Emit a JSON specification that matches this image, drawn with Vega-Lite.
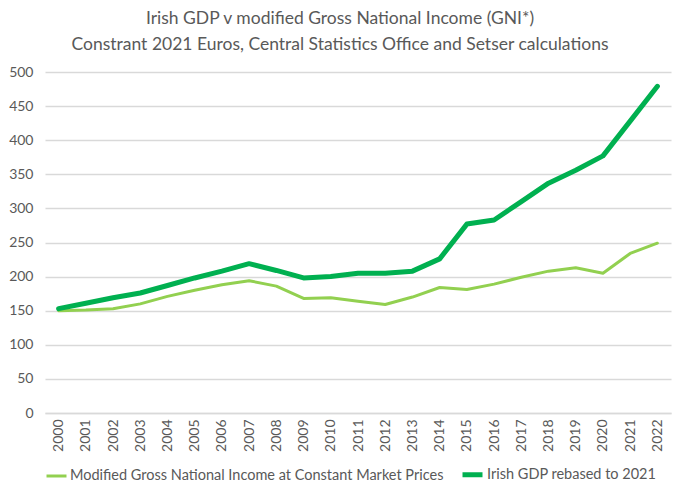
{
  "$schema": "https://vega.github.io/schema/vega-lite/v6.json",
  "width": 626,
  "height": 341,
  "autosize": {"type": "none"},
  "padding": {"left": 45, "top": 72, "right": 9, "bottom": 81},
  "background": "white",
  "config": {
    "font": "Lato",
    "view": {"stroke": null}
  },
  "title": {
    "text": ["Irish GDP v modified Gross National Income (GNI*)", "Constrant 2021 Euros, Central Statistics Office and Setser calculations"],
    "fontSize": 17.5,
    "fontWeight": "normal",
    "color": "#595959",
    "anchor": "middle",
    "dx": -18,
    "offset": 12,
    "lineHeight": 26
  },
  "data": {
    "values": [
      {"year": "2000", "series": "Modified Gross National Income at Constant Market Prices", "value": 150},
      {"year": "2001", "series": "Modified Gross National Income at Constant Market Prices", "value": 151},
      {"year": "2002", "series": "Modified Gross National Income at Constant Market Prices", "value": 153},
      {"year": "2003", "series": "Modified Gross National Income at Constant Market Prices", "value": 160},
      {"year": "2004", "series": "Modified Gross National Income at Constant Market Prices", "value": 171},
      {"year": "2005", "series": "Modified Gross National Income at Constant Market Prices", "value": 180},
      {"year": "2006", "series": "Modified Gross National Income at Constant Market Prices", "value": 188},
      {"year": "2007", "series": "Modified Gross National Income at Constant Market Prices", "value": 194},
      {"year": "2008", "series": "Modified Gross National Income at Constant Market Prices", "value": 186},
      {"year": "2009", "series": "Modified Gross National Income at Constant Market Prices", "value": 168},
      {"year": "2010", "series": "Modified Gross National Income at Constant Market Prices", "value": 169},
      {"year": "2011", "series": "Modified Gross National Income at Constant Market Prices", "value": 164},
      {"year": "2012", "series": "Modified Gross National Income at Constant Market Prices", "value": 159},
      {"year": "2013", "series": "Modified Gross National Income at Constant Market Prices", "value": 170},
      {"year": "2014", "series": "Modified Gross National Income at Constant Market Prices", "value": 184},
      {"year": "2015", "series": "Modified Gross National Income at Constant Market Prices", "value": 181},
      {"year": "2016", "series": "Modified Gross National Income at Constant Market Prices", "value": 189},
      {"year": "2017", "series": "Modified Gross National Income at Constant Market Prices", "value": 199},
      {"year": "2018", "series": "Modified Gross National Income at Constant Market Prices", "value": 208},
      {"year": "2019", "series": "Modified Gross National Income at Constant Market Prices", "value": 213},
      {"year": "2020", "series": "Modified Gross National Income at Constant Market Prices", "value": 205},
      {"year": "2021", "series": "Modified Gross National Income at Constant Market Prices", "value": 234},
      {"year": "2022", "series": "Modified Gross National Income at Constant Market Prices", "value": 249},
      {"year": "2000", "series": "Irish GDP rebased to 2021", "value": 153},
      {"year": "2001", "series": "Irish GDP rebased to 2021", "value": 161},
      {"year": "2002", "series": "Irish GDP rebased to 2021", "value": 169},
      {"year": "2003", "series": "Irish GDP rebased to 2021", "value": 176},
      {"year": "2004", "series": "Irish GDP rebased to 2021", "value": 187},
      {"year": "2005", "series": "Irish GDP rebased to 2021", "value": 198},
      {"year": "2006", "series": "Irish GDP rebased to 2021", "value": 208},
      {"year": "2007", "series": "Irish GDP rebased to 2021", "value": 219},
      {"year": "2008", "series": "Irish GDP rebased to 2021", "value": 209},
      {"year": "2009", "series": "Irish GDP rebased to 2021", "value": 198},
      {"year": "2010", "series": "Irish GDP rebased to 2021", "value": 200},
      {"year": "2011", "series": "Irish GDP rebased to 2021", "value": 205},
      {"year": "2012", "series": "Irish GDP rebased to 2021", "value": 205},
      {"year": "2013", "series": "Irish GDP rebased to 2021", "value": 208},
      {"year": "2014", "series": "Irish GDP rebased to 2021", "value": 226},
      {"year": "2015", "series": "Irish GDP rebased to 2021", "value": 277},
      {"year": "2016", "series": "Irish GDP rebased to 2021", "value": 283},
      {"year": "2017", "series": "Irish GDP rebased to 2021", "value": 310},
      {"year": "2018", "series": "Irish GDP rebased to 2021", "value": 337},
      {"year": "2019", "series": "Irish GDP rebased to 2021", "value": 356},
      {"year": "2020", "series": "Irish GDP rebased to 2021", "value": 377},
      {"year": "2021", "series": "Irish GDP rebased to 2021", "value": 428},
      {"year": "2022", "series": "Irish GDP rebased to 2021", "value": 479}
    ]
  },
  "mark": {"type": "line", "strokeCap": "round", "strokeJoin": "round"},
  "encoding": {
    "x": {
      "field": "year",
      "type": "ordinal",
      "title": null,
      "scale": {"paddingInner": 0, "paddingOuter": 0.5},
      "axis": {
        "labelAngle": -90,
        "labelAlign": "right",
        "labelBaseline": "middle",
        "labelFontSize": 14,
        "labelColor": "#595959",
        "labelPadding": 6,
        "ticks": false,
        "domainColor": "#D9D9D9",
        "domainWidth": 1.5,
        "grid": false
      }
    },
    "y": {
      "field": "value",
      "type": "quantitative",
      "title": null,
      "scale": {"domain": [0, 500]},
      "axis": {
        "values": [0, 50, 100, 150, 200, 250, 300, 350, 400, 450, 500],
        "labelFontSize": 14,
        "labelColor": "#595959",
        "labelPadding": 12,
        "ticks": false,
        "domain": false,
        "gridColor": "#D9D9D9",
        "gridWidth": 1.5
      }
    },
    "color": {
      "field": "series",
      "type": "nominal",
      "sort": ["Modified Gross National Income at Constant Market Prices", "Irish GDP rebased to 2021"],
      "scale": {
        "domain": ["Modified Gross National Income at Constant Market Prices", "Irish GDP rebased to 2021"],
        "range": ["#92D050", "#00B050"]
      },
      "legend": {
        "orient": "bottom",
        "direction": "horizontal",
        "title": null,
        "symbolType": "stroke",
        "symbolStrokeWidth": 4,
        "symbolSize": 400,
        "labelFontSize": 14.5,
        "labelLimit": 0,
        "labelColor": "#595959",
        "labelOffset": 2,
        "columnPadding": 8,
        "offset": 10
      }
    },
    "strokeWidth": {
      "field": "series",
      "type": "nominal",
      "scale": {
        "domain": ["Modified Gross National Income at Constant Market Prices", "Irish GDP rebased to 2021"],
        "range": [3, 5]
      },
      "legend": null
    }
  }
}
